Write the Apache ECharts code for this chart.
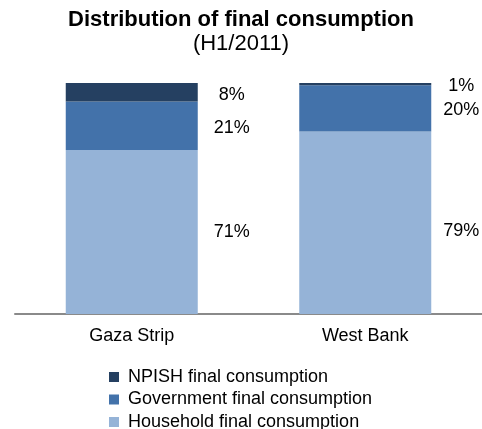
<!DOCTYPE html>
<html>
<head>
<meta charset="utf-8">
<script src="https://cdn.jsdelivr.net/npm/echarts@6/dist/echarts.min.js"></script>
<style>html,body{margin:0;padding:0;background:#fff;}#c{width:482px;height:429px;}</style>
</head>
<body>
<div id="c"></div>
<script>
const categories = ['Gaza Strip', 'West Bank'];
const household = [71, 79];
const government = [21, 20];
const npish = [8, 1];
const seriesNames = ['NPISH final consumption', 'Government final consumption', 'Household final consumption'];

const FONT = '"Liberation Sans", Arial, sans-serif';
const chart = echarts.init(document.getElementById('c'), null, {renderer: 'canvas'});

// label placement tweaks per category (style only)
const labelDistance = [34, 30];
function items(values, offsets) {
  return values.map((v, i) => ({
    value: v,
    label: {distance: labelDistance[i], offset: [0, offsets[i]]}
  }));
}
function lbl() {
  return {
    show: true, position: 'right', align: 'center', verticalAlign: 'middle',
    color: '#000', fontSize: 18, fontFamily: FONT,
    formatter: p => p.value + '%'
  };
}

chart.setOption({
  animation: false,
  title: {
    text: 'Distribution of final consumption',
    subtext: '(H1/2011)',
    left: 'center', top: 4, itemGap: 2, padding: [5, 0, 5, 10],
    textStyle: {fontSize: 22, fontWeight: 'bold', color: '#000', fontFamily: FONT},
    subtextStyle: {fontSize: 22, color: '#000', fontFamily: FONT}
  },
  legend: {
    orient: 'vertical', left: 104, top: 363, height: 80,
    itemWidth: 10, itemHeight: 10, itemGap: 4.5, icon: 'rect',
    data: seriesNames,
    textStyle: {fontSize: 18, color: '#000', fontFamily: FONT, padding: [0, 0, 0, 4]}
  },
  grid: {left: 15, right: 0, top: 83, bottom: 115},
  xAxis: {
    type: 'category', data: categories,
    axisLine: {lineStyle: {color: '#8a8a8a', width: 2}},
    axisTick: {show: false},
    axisLabel: {color: '#000', fontSize: 18, fontFamily: FONT, margin: 13}
  },
  yAxis: {type: 'value', min: 0, max: 100, show: false, splitLine: {show: false}},
  series: [
    {name: seriesNames[2], type: 'bar', stack: 's', data: items(household, [0, 8]), barWidth: 132,
     itemStyle: {color: '#95B3D7'}, label: lbl()},
    {name: seriesNames[1], type: 'bar', stack: 's', data: items(government, [2, 2]), barWidth: 132,
     itemStyle: {color: '#4372AA'}, label: lbl()},
    {name: seriesNames[0], type: 'bar', stack: 's', data: items(npish, [3, 2]), barWidth: 132,
     itemStyle: {color: '#254061'}, label: lbl()}
  ]
});
</script>
</body>
</html>
